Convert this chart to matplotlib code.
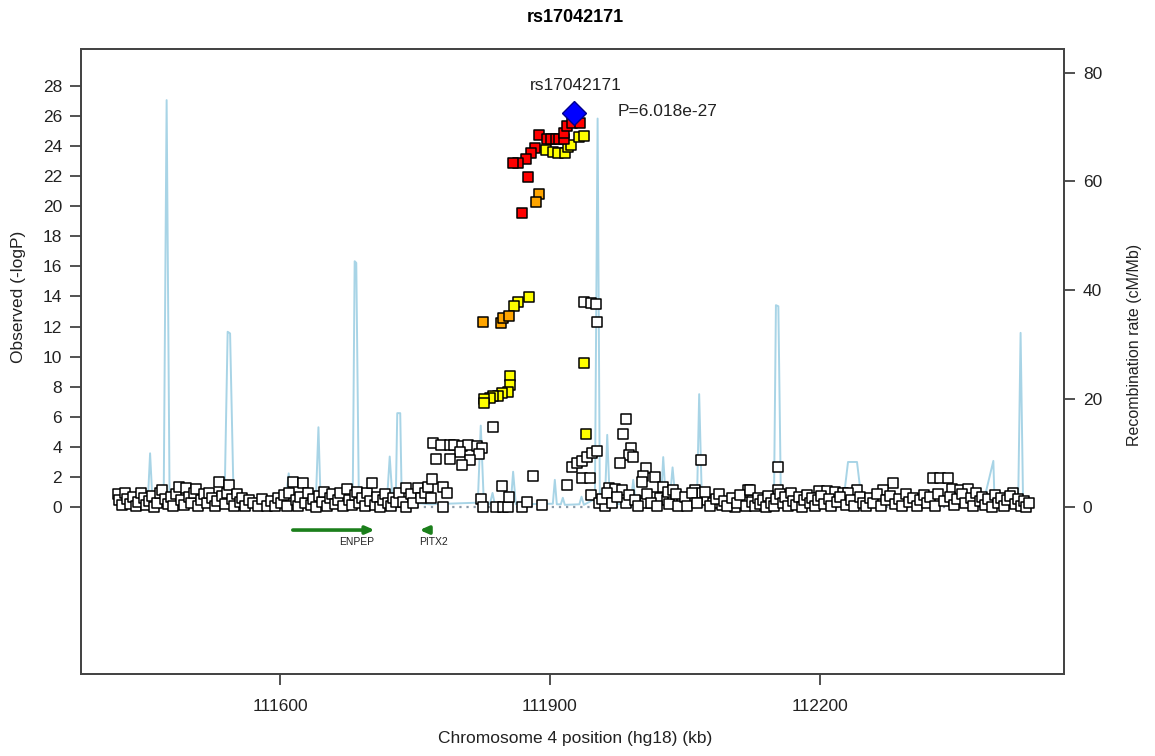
import matplotlib
matplotlib.use("Agg")
import matplotlib.pyplot as plt

plt.rcParams['font.family'] = ['Liberation Sans', 'DejaVu Sans']

# ---------------- data ----------------
title = "rs17042171"
lead_snp = "rs17042171"
lead_p_text = "P=6.018e-27"
lead_kb = 111927.0
lead_logp = 26.22

red_kb = [111887.7, 111896.3, 111901.1, 111906.6, 111910.3, 111915.9, 111915.9, 111918.5,
          111924.1, 111933.4, 111883.3, 111878.8, 111873.2, 111864.7, 111859.1, 111875.8, 111868.5]
red_logp = [24.73, 24.45, 24.45, 24.45, 24.45, 24.45, 24.85, 25.35,
            25.51, 25.55, 23.89, 23.56, 23.12, 22.89, 22.89, 21.94, 19.53]

orange_kb = [111887.7, 111884.4, 111825.7, 111846.0, 111848.0, 111854.7]
orange_logp = [20.79, 20.30, 12.32, 12.23, 12.57, 12.68]

yellow_kb = [111895.5, 111903.6, 111909.2, 111916.7, 111920.3, 111923.3, 111932.6, 111938.1,
             111876.9, 111864.7, 111860.2,
             111855.4, 111855.4, 111853.6, 111846.9, 111842.4, 111836.2, 111833.2, 111826.8, 111826.8,
             111938.1, 111940.0]
yellow_logp = [23.74, 23.62, 23.56, 23.52, 23.96, 24.07, 24.62, 24.67,
               13.98, 13.65, 13.38,
               8.73, 8.11, 7.63, 7.56, 7.40, 7.40, 7.23, 7.16, 6.90,
               9.59, 4.83]

white_kb = [
    # left band
    111419, 111421, 111424, 111427, 111430, 111433, 111436, 111439, 111442, 111445, 111448, 111451,
    111454, 111457, 111460, 111463, 111466, 111469, 111472, 111475, 111478, 111481, 111484, 111487,
    111490, 111493, 111495, 111498, 111501, 111504, 111506, 111509, 111512, 111515, 111518, 111521,
    111524, 111527, 111530, 111532, 111535, 111538, 111541, 111543, 111546, 111549, 111552, 111555,
    111558, 111561, 111565, 111570, 111575, 111580, 111585, 111590, 111594, 111598, 111601, 111604,
    111607, 111610, 111614, 111617, 111620, 111622, 111625, 111628, 111631, 111634, 111637, 111640,
    111643, 111646, 111649, 111652, 111655, 111658, 111661, 111664, 111667, 111670, 111674, 111677,
    111680, 111683, 111685, 111688, 111691, 111694, 111697, 111700, 111702, 111705, 111708, 111711,
    111714, 111717, 111720, 111723, 111726, 111729, 111732,
    # middle
    111736.7, 111739.7, 111740.4, 111745.0, 111747.8, 111753.4, 111757.1, 111760.8, 111764.5,
    111767.5, 111769.0, 111781.2, 111785.0, 111781.2,
    111770.1, 111778.6, 111788.7, 111793.4, 111801.7, 111809.0, 111818.4,
    111824.6, 111799.8, 111820.9, 111773.1, 111788.7, 111810.9, 111801.7, 111836.2,
    111823.9, 111825.7, 111840.6, 111847.3, 111853.6, 111869.1, 111875.1, 111891.4, 111846.2,
    111854.7, 111881.4,
    111938.1, 111945.6, 111951.2, 111952.3,
    111924.8, 111929.7, 111935.3, 111940.8, 111946.4, 111952.6,
    111935.3, 111944.5, 111918.6, 111945.6,
    111984.2, 111981.6, 111990.1, 111988.2, 111992.7, 111977.9,
    112068.1, 112006.8, 112003.2, 112016.8, 112002.0,
    111966.0, 111972.3, 111979.8, 111954.8, 111961.2, 111984.6,
    112000.6, 112005.7, 112015.0, 112022.4, 112029.9, 112037.2, 112046.6, 112055.8, 112061.4,
    112068.8, 112074.4, 112081.7, 112091.1, 112100.3, 112105.9, 112115.2, 112120.7,
    112025.6, 112031.2, 112036.8, 112072.6,
    111958, 111963, 111969, 111975, 111988, 111995, 111998, 112008, 112012, 112019, 112033,
    112040, 112043, 112050, 112053, 112058, 112064, 112078, 112085, 112088, 112094, 112097,
    112103, 112108, 112112, 112118,
    # right band
    112153.4, 112122.6, 112153.4, 112326.0, 112334.1, 112342.7, 112281.4, 112242.1, 112271.0,
    112347.1, 112356.4, 112365.6, 112199.7, 112208.0, 112217.2, 112226.5, 112232.0, 112415.7,
    112125, 112128, 112131, 112134, 112137, 112140, 112143, 112146, 112149, 112152, 112156,
    112159, 112162, 112165, 112168, 112171, 112174, 112177, 112180, 112183, 112186, 112189,
    112192, 112195, 112198, 112202, 112205, 112210, 112213, 112220, 112223, 112229, 112235,
    112238, 112245, 112248, 112252, 112256, 112260, 112264, 112268, 112274, 112278, 112284,
    112288, 112292, 112296, 112300, 112304, 112308, 112312, 112316, 112320, 112323, 112329,
    112332, 112338, 112345, 112350, 112353, 112359, 112362, 112368, 112371, 112374, 112378,
    112381, 112384, 112388, 112392, 112395, 112399, 112402, 112405, 112409, 112412, 112418,
    112421, 112424, 112427, 112430, 112433,
]
white_logp = [
    0.85, 0.45, 0.12, 0.95, 0.55, 0.20, 0.70, 0.05, 0.35, 0.90, 0.60, 0.15,
    0.40, 0.75, 0.02, 0.30, 0.95, 1.13, 0.55, 0.20, 0.65, 0.08, 0.88, 1.35,
    0.45, 0.15, 1.24, 0.70, 0.30, 0.90, 1.18, 0.05, 0.50, 0.85, 0.25, 0.95,
    0.60, 0.10, 0.40, 1.68, 0.75, 0.20, 0.95, 1.46, 0.55, 0.10, 0.85, 0.35,
    0.60, 0.05, 0.45, 0.30, 0.05, 0.55, 0.10, 0.40, 0.05, 0.62, 0.25, 0.80,
    0.10, 0.95, 1.68, 0.45, 0.05, 0.70, 1.62, 0.30, 0.90, 0.15, 0.55, 0.02,
    0.75, 0.35, 1.00, 0.10, 0.60, 0.85, 0.20, 0.45, 0.95, 0.05, 1.18, 0.50,
    0.15, 0.80, 1.02, 0.30, 0.60, 0.05, 0.90, 0.40, 1.62, 0.15, 0.70, 0.02,
    0.50, 0.85, 0.25, 0.05, 0.60, 0.35, 0.90,
    0.35, 0.02, 1.24, 0.85, 0.29, 1.24, 0.58, 0.91, 1.31,
    0.58, 1.86, 1.35, 0.91, 0.02,
    4.23, 4.15, 4.12, 4.10, 4.08, 4.12, 4.05,
    3.90, 3.68, 3.50, 3.19, 3.19, 3.12, 2.79, 5.34,
    0.51, 0.02, 0.02, 0.02, 0.02, 0.02, 0.35, 0.13, 1.40,
    0.69, 2.06,
    13.61, 13.54, 13.48, 12.32,
    2.68, 2.91, 3.06, 3.35, 3.57, 3.72,
    1.91, 1.91, 1.46, 0.80,
    5.87, 4.85, 3.90, 3.46, 3.35, 2.95,
    3.13, 2.57, 2.06, 2.02, 1.68,
    1.28, 1.18, 1.13, 0.25, 0.07, 0.25,
    0.42, 0.25, 0.69, 0.58, 0.47, 0.58, 0.35, 0.42, 1.13,
    0.91, 0.47, 0.25, 0.13, 0.13, 0.02, 0.35, 1.13,
    1.35, 1.02, 1.13, 1.02,
    0.55, 0.90, 0.30, 0.65, 0.80, 0.45, 0.10, 0.85, 0.30, 0.05, 0.20,
    0.85, 0.10, 0.65, 0.05, 0.90, 0.30, 0.05, 0.55, 0.85, 0.40, 0.05,
    0.60, 0.30, 0.80, 0.05,
    2.64, 1.13, 1.13, 1.95, 1.95, 1.95, 1.62, 1.13, 1.13,
    1.20, 1.15, 1.20, 1.06, 1.06, 1.02, 0.91, 0.95, 0.91,
    0.35, 0.05, 0.60, 0.20, 0.45, 0.02, 0.75, 0.30, 0.10, 0.55, 0.85,
    0.25, 0.65, 0.05, 0.90, 0.40, 0.15, 0.70, 0.02, 0.50, 0.80, 0.30,
    0.60, 0.10, 0.45, 0.75, 0.20, 0.55, 0.05, 0.35, 0.65, 0.15, 0.50,
    0.05, 0.70, 0.25, 0.05, 0.60, 0.30, 0.85, 0.10, 0.45, 0.75, 0.20,
    0.55, 0.05, 0.85, 0.35, 0.60, 0.10, 0.50, 0.80, 0.25, 0.65, 0.05,
    0.85, 0.40, 0.70, 0.15, 0.55, 0.85, 0.30, 0.60, 0.05, 0.95, 0.40,
    0.70, 0.15, 0.55, 0.02, 0.80, 0.30, 0.60, 0.05, 0.45, 0.75, 0.20,
    0.55, 0.05, 0.40, 0.02, 0.30,
]

recomb_kb = [111419.1, 111443.5, 111452.5, 111455.2, 111458.0, 111470.3, 111473.6, 111476.9,
             111510.3, 111538.0, 111541.5, 111544.2, 111548.2, 111577.1, 111606.1, 111609.4,
             111612.8, 111639.5, 111642.5, 111645.0, 111680.6, 111682.8, 111684.6, 111687.5,
             111718.5, 111721.8, 111725.2, 111728.5, 111730.2, 111733.5, 111735.2, 111766.4,
             111819.8, 111823.1, 111826.5, 111833.2, 111836.2, 111838.7, 111856.5, 111859.1,
             111862.1, 111903.3, 111905.5, 111907.7, 111912.2, 111914.4, 111916.6, 111932.8,
             111935.2, 111937.8, 111950.1, 111953.1, 111955.6, 111961.2, 111963.8, 111966.8,
             111990.1, 111992.7, 111995.7, 112023.5, 112026.1, 112029.1, 112033.5, 112036.5,
             112040.2, 112063.6, 112066.1, 112069.2, 112098.1, 112105.9, 112113.7, 112120.4,
             112149.3, 112151.5, 112154.2, 112157.1, 112226.1, 112231.7, 112241.7, 112247.3,
             112382.0, 112393.4, 112394.8, 112421.0, 112423.7, 112426.5, 112434.3]
recomb_rate = [0.3, 0.5, 0.4, 9.9, 0.6, 0.8, 75.0, 1.2,
               0.4, 0.6, 32.3, 32.0, 0.8, 0.3, 1.0, 6.2,
               0.5, 0.5, 14.7, 0.6, 0.5, 45.3, 45.0, 0.7,
               0.5, 9.3, 0.6, 1.0, 17.3, 17.3, 1.0, 0.5,
               0.8, 15.0, 0.8, 0.5, 2.6, 0.5, 0.6, 6.5,
               0.5, 0.6, 5.0, 0.5, 0.5, 1.7, 0.4, 0.5,
               1.9, 0.4, 1.5, 71.6, 1.0, 0.8, 13.3, 0.5,
               0.6, 5.0, 0.5, 0.8, 9.2, 1.0, 1.5, 7.3,
               0.6, 0.5, 20.8, 0.7, 0.6, 1.8, 1.6, 0.4,
               0.8, 37.2, 37.0, 0.5, 0.5, 8.3, 8.3, 0.5,
               0.6, 8.5, 0.5, 0.6, 32.1, 0.5, 0.3]

genes = ["ENPEP", "PITX2"]
gene_start = [111614.0, 111766.0]
gene_end = [111705.0, 111755.0]

yticks_left = list(range(0, 29, 2))
yticks_right = [0, 20, 40, 60, 80]
xticks = [111600, 111900, 112200]

# ---------------- figure ----------------
W, H = 1155, 756
L, R, T, B = 80.7, 1064.0, 49.0, 674.0
fig = plt.figure(figsize=(W / 100, H / 100), dpi=100)
ax = fig.add_axes([L / W, 1 - B / H, (R - L) / W, (B - T) / H])
ax2 = ax.twinx()
ax.set_zorder(ax2.get_zorder() + 1)
ax.patch.set_visible(False)

ax.set_xlim(111378, 112472)
ax.set_ylim(-11.10, 30.45)
ax2.set_ylim(-30.78, 84.42)

# recombination rate
ax2.plot(recomb_kb, recomb_rate, color='#a8d4e6', lw=1.4, zorder=1)

# baseline
all_kb = white_kb + yellow_kb + orange_kb + red_kb
ax.plot([min(all_kb), max(all_kb)], [0, 0], color='#8a9aa8', lw=1.6, ls=(0, (1, 2.2)), zorder=1)

msize = 46
ax.scatter(white_kb, white_logp, marker='s', s=msize, facecolor='white', edgecolor='black',
           linewidth=1.1, zorder=3)
ax.scatter(yellow_kb, yellow_logp, marker='s', s=msize, facecolor='#ffff00', edgecolor='black',
           linewidth=1.1, zorder=4)
ax.scatter(orange_kb, orange_logp, marker='s', s=msize, facecolor='#ffa500', edgecolor='black',
           linewidth=1.1, zorder=5)
ax.scatter(red_kb, red_logp, marker='s', s=msize, facecolor='#ff0000', edgecolor='black',
           linewidth=1.1, zorder=6)
ax.plot([lead_kb], [lead_logp], marker='D', markersize=12.5, markerfacecolor='#0000ff',
        markeredgecolor='#00008b', markeredgewidth=1.0, ls='none', zorder=7)

ax.annotate(lead_snp, xy=(lead_kb, lead_logp), xytext=(1, 19.5), textcoords='offset points',
            ha='center', va='center', fontsize=12.5, color='#222222')
ax.annotate(lead_p_text, xy=(lead_kb, lead_logp), xytext=(31, 0.5), textcoords='offset points',
            ha='left', va='center', fontsize=12.5, color='#222222')

# genes
gene_y = -1.53
label_y = -2.35
for name, s, e in zip(genes, gene_start, gene_end):
    ax.annotate('', xy=(e, gene_y), xytext=(s, gene_y),
                arrowprops=dict(arrowstyle='-|>,head_length=0.5,head_width=0.22',
                                color='#1b7f1b', lw=2.6, shrinkA=0, shrinkB=0), zorder=2)
    if e > s:
        ax.text(e - 1, label_y, name, ha='right', va='center', fontsize=7.5, color='#222222')
    else:
        ax.text(e, label_y, name, ha='left', va='center', fontsize=7.5, color='#222222')

# axes styling
ax.set_yticks(yticks_left)
ax.set_xticks(xticks)
ax2.set_yticks(yticks_right)
for a in (ax, ax2):
    for sp in a.spines.values():
        sp.set_color('#444444')
        sp.set_linewidth(1.3)
ax.tick_params(axis='y', length=8, width=1.1, pad=5.5, labelsize=12.5, colors='#222222')
ax.tick_params(axis='x', length=8, width=1.1, pad=10, labelsize=12.5, colors='#222222')
ax2.tick_params(axis='y', length=8, width=1.1, pad=5.5, labelsize=12.5, colors='#222222')

ax.set_ylabel("Observed (-logP)", fontsize=12.5, color='#222222')
ax.yaxis.set_label_coords((26 - L) / (R - L), (B - 297) / (B - T))
ax2.set_ylabel("Recombination rate (cM/Mb)", fontsize=11.5, color='#222222')
ax2.yaxis.set_label_coords((1127 - L) / (R - L), (B - 345) / (B - T))
ax.set_xlabel("Chromosome 4 position (hg18) (kb)", fontsize=12.5, color='#222222')
ax.xaxis.set_label_coords((575 - L) / (R - L), (B - 731) / (B - T))

fig.text(575 / W, 1 - 18 / H, title, ha='center', va='center', fontsize=13, fontweight='bold')

fig.savefig("out.png", dpi=100)
